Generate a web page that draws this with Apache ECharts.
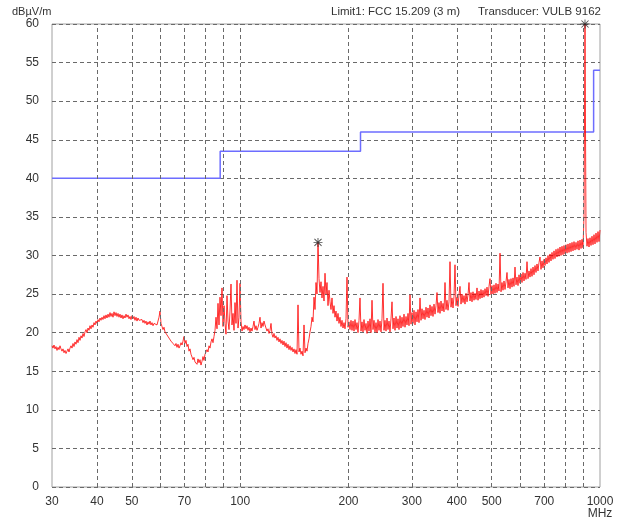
<!DOCTYPE html>
<html>
<head>
<meta charset="utf-8">
<title>FCC 15.209 radiated emission scan</title>
<script src="https://cdn.jsdelivr.net/npm/echarts@6.0.0/dist/echarts.min.js"></script>
<style>
  html, body { margin: 0; padding: 0; background: #ffffff; }
  #chart { width: 623px; height: 523px; }
</style>
</head>
<body>
<div id="chart"></div>
<script>
// Receiver sweep: 30 MHz .. 1000 MHz, log-spaced points
const sweepStart = 30;
const sweepStop = 1000;

// Measured level per sweep point, dBµV/m
const levels = [
  18.3, 18.0, 18.4, 17.9, 18.2, 17.7, 18.1, 17.8, 18.3, 17.9,
  17.6, 17.9, 17.4, 17.7, 17.3, 17.6, 17.9, 17.5, 18.0, 18.3,
  18.0, 18.6, 18.2, 18.8, 18.5, 19.1, 18.7, 19.4, 19.0, 19.6,
  19.3, 19.9, 19.5, 20.1, 20.4, 20.0, 20.6, 20.3, 20.9, 20.5,
  21.0, 20.7, 21.3, 21.0, 21.5, 21.2, 21.7, 21.4, 21.9, 21.6,
  22.0, 21.7, 22.2, 21.8, 22.3, 21.9, 22.4, 22.0, 22.6, 22.1,
  22.5, 22.0, 22.7, 22.2, 22.6, 22.1, 22.5, 22.0, 22.4, 21.9,
  22.3, 21.8, 22.2, 21.9, 22.4, 22.0, 22.3, 21.8, 22.1, 21.7,
  22.2, 21.8, 22.1, 21.6, 22.0, 21.5, 21.9, 21.6, 21.8, 21.4,
  21.7, 21.3, 21.6, 21.2, 21.5, 21.0, 21.4, 21.1, 21.5, 21.0,
  21.3, 20.9, 21.2, 21.0, 21.4, 21.0, 21.2, 22.0, 22.8, 21.2,
  20.8, 20.4, 20.7, 20.1, 20.3, 19.7, 19.9, 19.3, 19.5, 18.9,
  19.1, 18.6, 18.8, 18.3, 18.6, 18.1, 18.5, 18.0, 18.3, 18.7,
  18.4, 18.9, 19.5, 18.6, 19.0, 18.2, 18.5, 17.6, 17.9, 17.2,
  17.0, 16.5, 16.8, 16.2, 16.4, 15.9, 16.6, 16.1, 16.5, 15.8,
  16.3, 16.9, 16.4, 17.2, 17.0, 17.8, 17.5, 18.3, 18.0, 18.8,
  19.2, 18.7, 19.5, 20.3, 22.0, 20.5, 23.8, 21.0, 24.6, 22.2,
  25.8, 20.8, 23.5, 21.2, 19.8, 24.8, 21.5, 20.4, 22.8, 26.3,
  21.0, 22.5, 20.3, 23.9, 21.2, 26.8, 20.6, 22.0, 26.4, 21.5,
  20.2, 20.8, 20.4, 21.0, 20.5, 20.9, 20.3, 20.7, 20.1, 20.6,
  20.2, 20.8, 21.5, 20.4, 20.9, 20.3, 20.7, 21.2, 22.0, 20.6,
  21.3, 20.8, 21.5, 21.0, 20.6, 20.2, 20.5, 19.9, 20.3, 21.2,
  19.8, 19.4, 19.9, 19.3, 19.6, 19.0, 19.4, 18.8, 19.2, 18.6,
  19.0, 18.4, 18.9, 18.2, 18.7, 18.0, 18.5, 17.8, 18.3, 17.7,
  18.1, 17.5, 17.9, 17.3, 17.8, 17.2, 23.6, 17.5, 18.0, 17.2,
  17.6, 17.0, 21.0, 17.4, 18.0, 17.6, 18.6, 19.2, 20.1, 20.8,
  22.0, 21.4, 24.6, 23.0, 26.5, 25.0, 31.7, 27.0, 25.2, 26.6,
  24.5, 26.0, 24.1, 27.7, 25.0, 26.5, 23.5, 25.5, 24.0, 23.0,
  24.5, 22.5, 23.5, 22.0, 22.8, 21.5, 22.5, 21.2, 22.0, 20.8,
  21.6, 20.6, 21.3, 20.5, 21.8, 27.2, 20.7, 21.4, 20.4, 21.6,
  20.3, 21.5, 20.2, 21.7, 20.4, 21.3, 20.0, 21.6, 24.5, 20.2,
  21.4, 20.1, 21.7, 20.3, 21.2, 19.9, 21.5, 20.2, 21.8, 20.0,
  24.2, 20.4, 21.6, 20.1, 21.3, 20.0, 21.7, 20.3, 21.5, 20.1,
  21.8, 26.4, 20.3, 21.6, 20.2, 21.9, 20.4, 21.5, 20.1, 21.8,
  24.0, 20.5, 21.9, 20.3, 22.1, 20.6, 21.8, 20.4, 22.2, 20.6,
  22.0, 20.8, 22.4, 20.7, 22.1, 21.0, 22.5, 20.9, 24.9, 21.1,
  22.6, 21.2, 22.9, 21.0, 22.7, 21.4, 23.0, 21.3, 24.5, 21.6,
  23.1, 21.8, 22.9, 21.7, 23.3, 22.0, 23.2, 21.9, 23.6, 22.2,
  23.4, 22.1, 23.7, 22.4, 23.5, 25.2, 22.6, 23.9, 22.5, 24.1,
  22.8, 23.8, 22.7, 26.5, 23.0, 24.2, 22.9, 24.0, 29.2, 23.3,
  24.5, 23.2, 24.7, 28.8, 23.5, 24.6, 23.4, 24.9, 26.0, 23.7,
  25.0, 23.9, 24.8, 23.7, 25.1, 24.0, 24.9, 26.5, 24.1, 25.2,
  24.0, 25.3, 24.2, 25.1, 24.3, 25.8, 24.2, 25.4, 24.4, 25.6,
  24.5, 25.5, 24.6, 25.7, 24.8, 25.9, 24.7, 26.0, 27.0, 24.9,
  26.1, 25.0, 26.2, 25.1, 26.4, 25.2, 26.3, 25.4, 30.3, 25.3,
  26.5, 25.5, 26.7, 25.6, 26.6, 27.8, 25.8, 26.9, 25.7, 27.0,
  25.9, 27.1, 26.0, 28.5, 26.2, 27.2, 26.1, 27.5, 26.4, 27.6,
  26.5, 27.8, 26.7, 27.7, 26.9, 29.2, 27.0, 28.0, 27.2, 28.3,
  27.3, 28.5, 27.5, 28.7, 27.8, 28.9, 28.0, 29.1, 29.8, 28.2,
  29.3, 28.4, 29.5, 28.7, 29.7, 28.9, 30.0, 29.1, 30.2, 29.3,
  30.4, 29.5, 30.6, 29.6, 30.8, 29.8, 30.9, 29.9, 31.1, 30.0,
  31.2, 30.1, 31.3, 30.2, 31.4, 30.3, 31.5, 30.4, 31.6, 30.5,
  31.7, 30.6, 31.8, 30.7, 31.7, 30.8, 31.9, 30.7, 32.0, 30.9,
  32.1, 31.0, 35.2, 60.0, 33.0, 31.2, 32.2, 31.1, 32.3, 31.3,
  32.5, 31.4, 32.7, 31.5, 32.9, 31.7, 33.1, 31.8, 33.3
];

// Sweep point indices flagged as peaks (asterisk markers)
const peakIndices = [266, 533];

// FCC 15.209 (3 m) limit, step line
const limitFreqs = [30, 88, 88, 216, 216, 960, 960, 1000];
const limitLevels = [40, 40, 43.5, 43.5, 46, 46, 54, 54];

// Vertical grid positions and labelled frequencies, MHz
const gridFreqs = [40, 50, 60, 70, 80, 90, 100, 200, 300, 400, 500, 600, 700, 800, 900];
const tickLabelFreqs = [30, 40, 50, 70, 100, 200, 300, 400, 500, 700, 1000];

const traceFreqs = levels.map((_, i) =>
  sweepStart * Math.pow(sweepStop / sweepStart, i / (levels.length - 1)));
const tracePoints = levels.map((v, i) => [traceFreqs[i], v]);
const peakPoints = peakIndices.map(i => [traceFreqs[i], levels[i]]);
const limitPoints = limitFreqs.map((f, i) => [f, limitLevels[i]]);

const FONT = '"Liberation Sans", Arial, sans-serif';
const GRID_COLOR = '#6a6a6a';
const DASH = [4, 3];

// Eight-point asterisk marker
const asteriskPath = 'path://M4.5 0L5.5 0L5.5 10L4.5 10Z' +
  'M0 4.5L10 4.5L10 5.5L0 5.5Z' +
  'M0.7 1.4L1.4 0.7L9.3 8.6L8.6 9.3Z' +
  'M8.6 0.7L9.3 1.4L1.4 9.3L0.7 8.6Z';

const chart = echarts.init(document.getElementById('chart'), null, { renderer: 'canvas' });

chart.setOption({
  animation: false,
  backgroundColor: '#ffffff',
  grid: {
    left: 52, right: 23, top: 24, bottom: 36,
    show: true, borderColor: '#a0a0a0', borderWidth: 1
  },
  xAxis: {
    type: 'log', logBase: 10, min: sweepStart, max: sweepStop,
    axisLine: { show: false }, axisTick: { show: false },
    axisLabel: { show: false }, splitLine: { show: false }
  },
  yAxis: {
    type: 'value', min: 0, max: 60, interval: 5,
    axisLine: { show: false }, axisTick: { show: false },
    axisLabel: { color: '#333', fontSize: 12, margin: 13, fontFamily: FONT },
    splitLine: { lineStyle: { color: GRID_COLOR, type: DASH, width: 1 } }
  },
  series: [
    {
      name: 'grid',
      type: 'line',
      data: [],
      silent: true,
      z: 1,
      markLine: {
        silent: true,
        symbol: 'none',
        label: { show: false },
        lineStyle: { color: GRID_COLOR, type: DASH, width: 1 },
        data: gridFreqs.map(f => ({ xAxis: f }))
      }
    },
    {
      name: 'Limit1',
      type: 'line',
      data: limitPoints,
      showSymbol: false,
      silent: true,
      z: 3,
      lineStyle: { color: '#6d6dff', width: 1.5 }
    },
    {
      name: 'Level',
      type: 'line',
      data: tracePoints,
      showSymbol: false,
      silent: true,
      sampling: null,
      z: 4,
      lineStyle: { color: '#ff0000', width: 1, opacity: 0.8 }
    },
    {
      name: 'Peaks',
      type: 'scatter',
      data: peakPoints,
      symbol: asteriskPath,
      symbolSize: 9,
      silent: true,
      z: 5,
      itemStyle: { color: '#222222' }
    }
  ]
});

// Frequency tick labels and text annotations
const bottomY = chart.convertToPixel({ yAxisIndex: 0 }, 0);
const graphics = tickLabelFreqs.map(f => ({
  type: 'text',
  x: chart.convertToPixel({ xAxisIndex: 0 }, f),
  y: bottomY + 15,
  style: {
    text: String(f), fill: '#333', font: '12px ' + FONT,
    align: 'center', verticalAlign: 'middle'
  }
}));
graphics.push({
  type: 'text',
  x: chart.convertToPixel({ xAxisIndex: 0 }, 1000),
  y: bottomY + 27,
  style: { text: 'MHz', fill: '#333', font: '12px ' + FONT, align: 'center', verticalAlign: 'middle' }
});
graphics.push({
  type: 'text', x: 12, y: 12,
  style: { text: 'dBµV/m', fill: '#333', font: '11px ' + FONT, align: 'left', verticalAlign: 'middle' }
});
graphics.push({
  type: 'text', x: 331, y: 12,
  style: { text: 'Limit1: FCC 15.209 (3 m)', fill: '#333', font: '11.5px ' + FONT, align: 'left', verticalAlign: 'middle' }
});
graphics.push({
  type: 'text', x: 478, y: 12,
  style: { text: 'Transducer: VULB 9162', fill: '#333', font: '11.5px ' + FONT, align: 'left', verticalAlign: 'middle' }
});
chart.setOption({ graphic: graphics });
</script>
</body>
</html>
